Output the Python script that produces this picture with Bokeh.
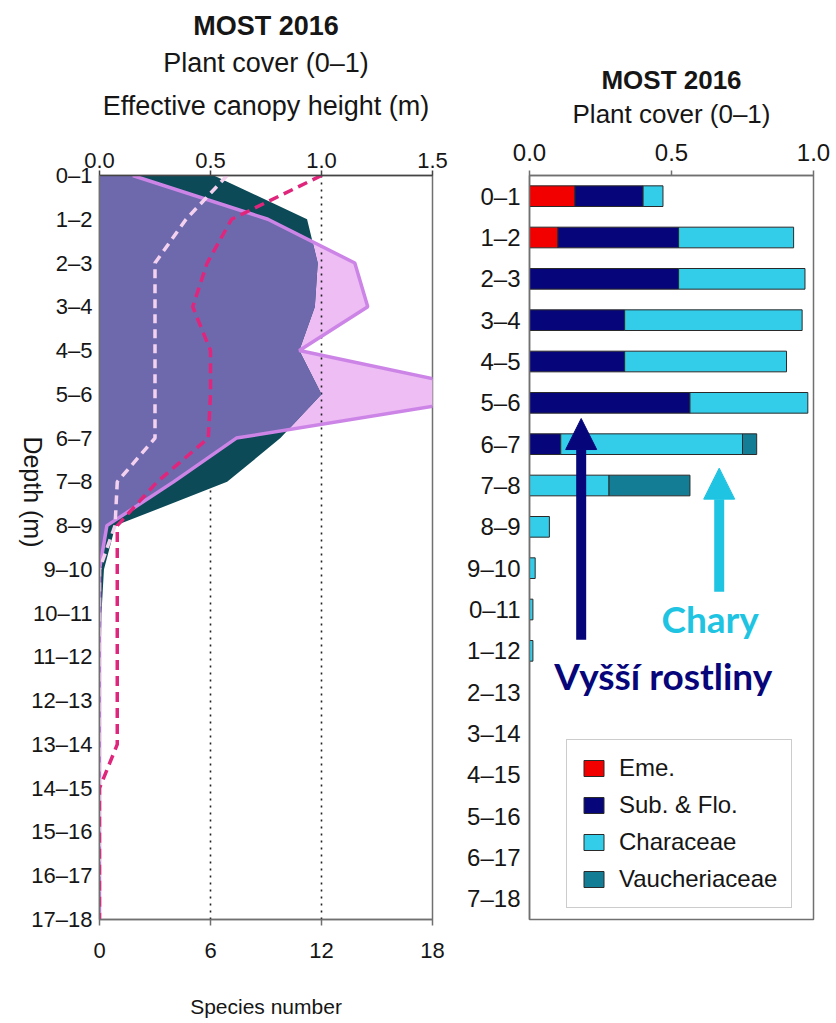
import math
import numpy as np
from bokeh.plotting import figure
from bokeh.models import (Range1d, LinearAxis, FixedTicker, Label, Arrow, NormalHead,
                          Legend, LegendItem, ColumnDataSource, NumeralTickFormatter,
                          Title)
from bokeh.layouts import row
from bokeh.embed import file_html
from bokeh.resources import INLINE

# ---------------- data: left panel ----------------
depth_left = ["0–1", "1–2", "2–3", "3–4", "4–5", "5–6", "6–7", "7–8", "8–9", "9–10",
              "10–11", "11–12", "12–13", "13–14", "14–15", "15–16", "16–17", "17–18"]
plant_cover = [0.515, 0.935, 0.983, 0.97, 0.90, 1.0, 0.815, 0.575, 0.072, 0.02,
               0.009, 0.005, 0, 0, 0, 0, 0, 0]
species_number = [1.8, 9.1, 13.8, 14.5, 10.8, 22.0, 7.4, 4.0, 0.4, 0,
                  0, 0, 0, 0, 0, 0, 0, 0]
canopy_height = [1.0, 0.595, 0.485, 0.42, 0.50, 0.50, 0.49, 0.26, 0.08, 0.08,
                 0.08, 0.08, 0.08, 0.08, 0, 0, 0, 0]
canopy_height_sub = [0.575, 0.39, 0.25, 0.25, 0.25, 0.25, 0.25, 0.08, 0.07, 0,
                     0, 0, 0, 0, 0, 0, 0, 0]
cover_ticks = [0.0, 0.5, 1.0, 1.5]
species_ticks = [0, 6, 12, 18]
grid_lines = [0.5, 1.0]

# ---------------- data: right panel ----------------
depth_right = ["0–1", "1–2", "2–3", "3–4", "4–5", "5–6", "6–7", "7–8", "8–9", "9–10",
               "0–11", "1–12", "2–13", "3–14", "4–15", "5–16", "6–17", "7–18"]
eme = [0.16, 0.10, 0, 0, 0, 0, 0, 0, 0, 0, 0, 0, 0, 0, 0, 0, 0, 0]
sub_flo = [0.24, 0.425, 0.525, 0.335, 0.335, 0.565, 0.11, 0, 0, 0, 0, 0, 0, 0, 0, 0, 0, 0]
characeae = [0.07, 0.405, 0.445, 0.625, 0.57, 0.415, 0.64, 0.28, 0.07, 0.02,
             0.012, 0.012, 0, 0, 0, 0, 0, 0]
vaucheriaceae = [0, 0, 0, 0, 0, 0, 0.05, 0.285, 0, 0, 0, 0, 0, 0, 0, 0, 0, 0]
cover_ticks_right = [0.0, 0.5, 1.0]

# ---------------- styles ----------------
SANS = "Liberation Sans"
TXT = "#161616"
FRAME = "#707070"
PINK = "#eebdf4"
VIOLET = "#cc85e6"
TEAL = "#0c4a58"
PURPLE = "#6e69ad"
MAGENTA = "#e0267c"
PALE = "#f4d2ef"
RED = "#f20000"
NAVY = "#06067a"
CYAN = "#33cdea"
VTEAL = "#137d95"
ARROW_CYAN = "#1ec4e2"

n = len(depth_left)
yl = np.arange(n)


def add_title(fig, text, size, style="normal", standoff=0, offset=0):
    fig.add_layout(Title(text=text, align="center", text_font=SANS,
                         text_font_size=size, text_font_style=style,
                         text_color=TXT, standoff=standoff, offset=offset),
                   "above")


def style_axis(ax, size, standoff, tick_out=0, line_color=FRAME):
    ax.major_label_text_font = SANS
    ax.major_label_text_font_size = size
    ax.major_label_text_color = TXT
    ax.major_tick_out = tick_out
    ax.major_tick_in = 0
    ax.minor_tick_out = 0
    ax.minor_tick_in = 0
    ax.axis_line_color = line_color
    ax.axis_line_width = 1.5
    ax.major_tick_line_color = line_color
    ax.major_tick_line_width = 1.5
    ax.major_label_standoff = standoff


# ================= LEFT PANEL =================
left = figure(width=460, height=1023,
              x_range=Range1d(cover_ticks[0], cover_ticks[-1]),
              y_range=Range1d(n - 1, 0),
              x_axis_location="above",
              output_backend="svg", toolbar_location=None,
              min_border_left=99, min_border_right=28,
              min_border_top=175, min_border_bottom=100)
left.extra_x_ranges = {"species": Range1d(species_ticks[0], species_ticks[-1])}
left.xgrid.visible = False
left.ygrid.visible = False
left.outline_line_color = FRAME
left.outline_line_width = 1.5
left.background_fill_color = "white"
left.border_fill_color = "white"

zeros = np.zeros(n)
# species number (pink)
left.harea(x1=zeros, x2=species_number, y=yl, x_range_name="species",
           fill_color=PINK, fill_alpha=1.0)
# dotted reference lines
left.segment(x0=grid_lines, y0=[yl[0]] * len(grid_lines), x1=grid_lines,
             y1=[yl[-1]] * len(grid_lines), line_color="#222222",
             line_width=1.6, line_dash="2 5")
# plant cover (dark teal)
left.harea(x1=zeros, x2=plant_cover, y=yl, fill_color=TEAL, fill_alpha=1.0)
# overlap of cover and species (purple)
ratio = (cover_ticks[-1] - cover_ticks[0]) / (species_ticks[-1] - species_ticks[0])
yy = np.linspace(0, n - 1, (n - 1) * 200 + 1)
a = np.interp(yy, yl, plant_cover)
b = np.interp(yy, yl, species_number) * ratio
ov = np.minimum(a, b)
left.harea(x1=np.zeros_like(yy), x2=ov, y=yy, fill_color=PURPLE, fill_alpha=1.0)
# species outline
left.line(x=species_number, y=yl, x_range_name="species", line_color=VIOLET,
          line_width=3.5)
# canopy height lines
left.line(x=canopy_height_sub, y=yl, line_color=PALE, line_width=3.5,
          line_dash="9 6")
left.line(x=canopy_height, y=yl, line_color=MAGENTA, line_width=3.5,
          line_dash="10 6")

# top axis (cover / height)
tx = left.xaxis[0]
tx.ticker = FixedTicker(ticks=cover_ticks)
tx.formatter = NumeralTickFormatter(format="0.0")
style_axis(tx, "22px", 3, tick_out=5, line_color="#444444")

# bottom axis (species)
bx = LinearAxis(x_range_name="species", ticker=FixedTicker(ticks=species_ticks))
style_axis(bx, "22px", 17, tick_out=6)
bx.axis_label = "Species number"
bx.axis_label_text_font = SANS
bx.axis_label_text_font_size = "21px"
bx.axis_label_text_font_style = "normal"
bx.axis_label_text_color = TXT
bx.axis_label_standoff = 34
left.add_layout(bx, "below")

# left axis (depth)
ya = left.yaxis[0]
ya.ticker = FixedTicker(ticks=list(range(n)))
ya.major_label_overrides = {i: lab for i, lab in enumerate(depth_left)}
style_axis(ya, "22px", 7)
ya.axis_label = "Depth (m)"
ya.axis_label_text_font = SANS
ya.axis_label_text_font_size = "25px"
ya.axis_label_text_font_style = "normal"
ya.axis_label_text_color = TXT
ya.axis_label_standoff = -5
try:
    ya.axis_label_orientation = -math.pi / 2
except Exception:
    pass

# spacer between the top axis and the title block
left.add_layout(Title(text=" ", text_font_size="1px", standoff=20), "above")
add_title(left, "Effective canopy height (m)", "27px", standoff=11, offset=6)
add_title(left, "Plant cover (0–1)", "27px", standoff=11, offset=6)
add_title(left, "MOST 2016", "27px", style="bold", standoff=0, offset=6)

# ================= RIGHT PANEL =================
yr = np.arange(n)
right = figure(width=376, height=1023,
               x_range=Range1d(cover_ticks_right[0], cover_ticks_right[-1]),
               y_range=Range1d(n - 0.5, -0.5),
               x_axis_location="above",
               output_backend="svg", toolbar_location=None,
               min_border_left=69, min_border_right=23,
               min_border_top=172, min_border_bottom=104)
right.xgrid.visible = False
right.ygrid.visible = False
right.outline_line_color = FRAME
right.outline_line_width = 1.5
right.background_fill_color = "white"
right.border_fill_color = "white"

series = [("Eme.", eme, RED), ("Sub. & Flo.", sub_flo, NAVY),
          ("Characeae", characeae, CYAN), ("Vaucheriaceae", vaucheriaceae, VTEAL)]
cum = np.zeros(n)
items = []
for name, vals, col in series:
    v = np.array(vals, dtype=float)
    lft = cum.copy()
    rgt = cum + v
    mask = v > 0
    src = ColumnDataSource(dict(y=yr[mask], left=lft[mask], right=rgt[mask]))
    r = right.hbar(y="y", left="left", right="right", height=0.5, source=src,
                   fill_color=col, line_color="#2a2a2a", line_width=1)
    items.append(LegendItem(label=name, renderers=[r]))
    cum = rgt

legend = Legend(items=items, location=(37, 11), orientation="vertical",
                label_text_font=SANS, label_text_font_size="24px",
                label_text_color=TXT, glyph_width=25, glyph_height=20,
                label_standoff=13, spacing=9, padding=14, margin=0,
                border_line_color="#9a9a9a", border_line_width=1.5,
                background_fill_color="white", background_fill_alpha=1.0)
right.add_layout(legend)

rx = right.xaxis[0]
rx.ticker = FixedTicker(ticks=cover_ticks_right)
rx.formatter = NumeralTickFormatter(format="0.0")
style_axis(rx, "24px", 10, tick_out=5)

ry = right.yaxis[0]
ry.ticker = FixedTicker(ticks=list(range(n)))
ry.major_label_overrides = {i: lab_ for i, lab_ in enumerate(depth_right)}
style_axis(ry, "24px", 9)

add_title(right, "Plant cover (0–1)", "26px", standoff=24, offset=6)
add_title(right, "MOST 2016", "26px", style="bold", standoff=-20, offset=6)

# annotation arrows and texts
right.add_layout(Arrow(x_start=0.182, y_start=10.73, x_end=0.182, y_end=5.38,
                       line_color=NAVY, line_width=10,
                       end=NormalHead(size=31, fill_color=NAVY, line_color=NAVY,
                                      line_width=1)))
right.add_layout(Arrow(x_start=0.668, y_start=9.57, x_end=0.668, y_end=6.58,
                       line_color=ARROW_CYAN, line_width=10,
                       end=NormalHead(size=31, fill_color=ARROW_CYAN,
                                      line_color=ARROW_CYAN, line_width=1)))
right.add_layout(Label(x=0.636, y=10.22, text="Chary", text_font="Lato",
                       text_font_style="bold", text_font_size="37px",
                       text_color=ARROW_CYAN, text_align="center",
                       text_baseline="alphabetic"))
right.add_layout(Label(x=0.471, y=11.59, text="Vyšší rostliny", text_font="Lato",
                       text_font_style="bold", text_font_size="37px",
                       text_color=NAVY, text_align="center",
                       text_baseline="alphabetic"))

layout = row(left, right)
open("out.html", "w").write(file_html(layout, INLINE))
